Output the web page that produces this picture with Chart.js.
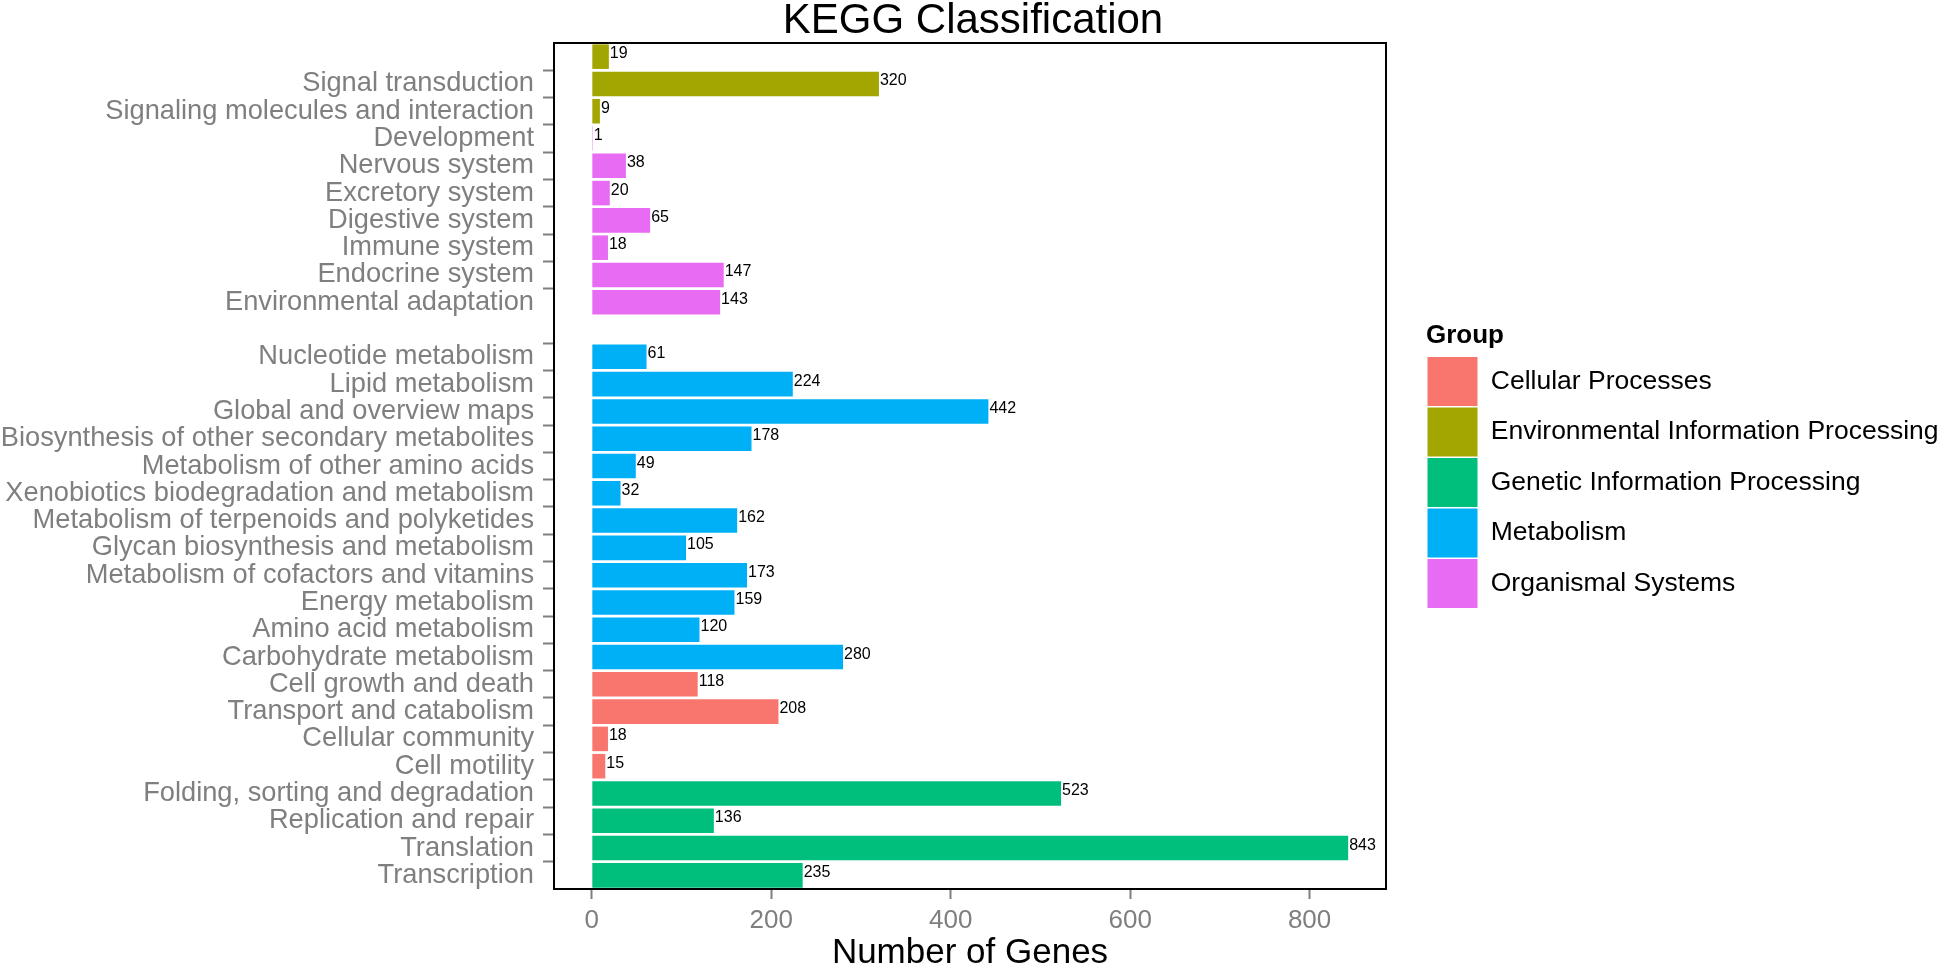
<!DOCTYPE html>
<html>
<head>
<meta charset="utf-8">
<title>KEGG Classification</title>
<script src="https://cdn.jsdelivr.net/npm/chart.js@4.4.1/dist/chart.umd.min.js"></script>
<style>
  body { margin: 0; background: #fff; }
  #wrap { width: 1946px; height: 969px; }
</style>
</head>
<body>
<div id="wrap"><canvas id="kegg-chart"></canvas></div>
<script>
// categories, top to bottom ('' = row without a label)
const categories = [
    '',
    'Signal transduction',
    'Signaling molecules and interaction',
    'Development',
    'Nervous system',
    'Excretory system',
    'Digestive system',
    'Immune system',
    'Endocrine system',
    'Environmental adaptation',
    '',
    'Nucleotide metabolism',
    'Lipid metabolism',
    'Global and overview maps',
    'Biosynthesis of other secondary metabolites',
    'Metabolism of other amino acids',
    'Xenobiotics biodegradation and metabolism',
    'Metabolism of terpenoids and polyketides',
    'Glycan biosynthesis and metabolism',
    'Metabolism of cofactors and vitamins',
    'Energy metabolism',
    'Amino acid metabolism',
    'Carbohydrate metabolism',
    'Cell growth and death',
    'Transport and catabolism',
    'Cellular community',
    'Cell motility',
    'Folding, sorting and degradation',
    'Replication and repair',
    'Translation',
    'Transcription'
];

const geneCounts = [
    19, 320, 9, 1, 38, 20, 65, 18, 147, 143,
    null,
    61, 224, 442, 178, 49, 32, 162, 105, 173, 159, 120, 280,
    118, 208, 18, 15,
    523, 136, 843, 235
];

// group index of each category (see groupNames)
const categoryGroup = [
    1, 1, 1, 4, 4, 4, 4, 4, 4, 4,
    -1,
    3, 3, 3, 3, 3, 3, 3, 3, 3, 3, 3, 3,
    0, 0, 0, 0,
    2, 2, 2, 2
];

const groupNames = [
    'Cellular Processes',
    'Environmental Information Processing',
    'Genetic Information Processing',
    'Metabolism',
    'Organismal Systems'
];
const groupColors = ['#F8766D', '#A3A500', '#00BF7D', '#00B0F6', '#E76BF3'];

const xTicks = [0, 200, 400, 600, 800];

const FONT = "'Liberation Sans', Arial, sans-serif";
const GREY = '#7F7F7F';

Chart.defaults.font.family = FONT;

// one dataset per group so the legend shows the groups
const datasets = groupNames.map((name, g) => ({
    label: name,
    data: geneCounts.map((v, i) => categoryGroup[i] === g ? v : null),
    backgroundColor: groupColors[g],
    borderWidth: 0,
    xAxisID: 'x',
    yAxisID: 'y'
}));

// ggplot-style 5% expansion of the value axis
const maxCount = Math.max(...geneCounts.filter(v => v !== null));
const xPad = maxCount * 0.05;

// numbers at the end of the bars
const valueLabels = {
    id: 'valueLabels',
    afterDatasetsDraw(chart) {
        const ctx = chart.ctx;
        ctx.save();
        ctx.font = '16px ' + FONT;
        ctx.fillStyle = '#000';
        ctx.textAlign = 'left';
        ctx.textBaseline = 'alphabetic';
        chart.data.datasets.forEach((ds, d) => {
            chart.getDatasetMeta(d).data.forEach((bar, i) => {
                const v = ds.data[i];
                if (v === null || v === undefined) return;
                ctx.fillText(String(v), bar.x + 1, bar.y + 1.5);
            });
        });
        ctx.restore();
    }
};

// black frame round the panel
const panelBorder = {
    id: 'panelBorder',
    afterDatasetsDraw(chart) {
        const a = chart.chartArea;
        const ctx = chart.ctx;
        ctx.save();
        ctx.strokeStyle = '#000';
        ctx.lineWidth = 2;
        ctx.strokeRect(a.left, a.top, a.right - a.left, a.bottom - a.top);
        ctx.restore();
    }
};

const ctx = document.getElementById('kegg-chart').getContext('2d');
new Chart(ctx, {
    type: 'bar',
    data: {
        labels: categories,
        datasets: datasets
    },
    options: {
        indexAxis: 'y',
        responsive: true,
        maintainAspectRatio: false,
        animation: false,
        layout: { padding: 0 },
        datasets: {
            bar: {
                grouped: false,
                barPercentage: 0.9,
                categoryPercentage: 1.0
            }
        },
        scales: {
            x: {
                type: 'linear',
                min: -xPad,
                max: maxCount + xPad,
                afterBuildTicks: scale => {
                    scale.ticks = xTicks.map(v => ({ value: v }));
                },
                afterFit: scale => { scale.height = 80; },
                grid: {
                    drawOnChartArea: false,
                    drawTicks: true,
                    tickLength: 10,
                    tickWidth: 2,
                    tickColor: GREY
                },
                border: { display: false },
                ticks: {
                    color: GREY,
                    font: { size: 26 },
                    padding: 6
                },
                title: {
                    display: true,
                    text: 'Number of Genes',
                    color: '#000',
                    font: { size: 35, lineHeight: 1 },
                    padding: { top: 0, bottom: -2 }
                }
            },
            y: {
                type: 'category',
                offset: true,
                afterFit: scale => { scale.width = 554; },
                grid: {
                    drawOnChartArea: false,
                    drawTicks: true,
                    tickLength: 11,
                    tickWidth: 2,
                    tickColor: c => categories[c.index] ? GREY : 'rgba(0,0,0,0)'
                },
                border: { display: false },
                ticks: {
                    autoSkip: false,
                    color: GREY,
                    font: { size: 27.25 },
                    padding: 9
                }
            },
            // empty strip between the panel and the legend
            gap: {
                type: 'linear',
                position: 'right',
                display: true,
                afterFit: scale => { scale.width = 40; },
                grid: { display: false },
                border: { display: false },
                ticks: { display: false }
            }
        },
        plugins: {
            title: {
                display: true,
                text: 'KEGG Classification',
                color: '#000',
                font: { size: 42, weight: 'normal', lineHeight: 1 },
                padding: { top: 0, bottom: 1 }
            },
            legend: {
                position: 'right',
                align: 'center',
                fullSize: false,
                maxWidth: 520,
                labels: {
                    boxWidth: 50,
                    boxHeight: 49,
                    padding: 1.5,
                    color: '#000',
                    font: { size: 26.5 }
                },
                title: {
                    display: true,
                    position: 'start',
                    text: 'Group',
                    color: '#000',
                    font: { size: 26, weight: 'bold', lineHeight: 1.2 },
                    padding: { top: 0, bottom: 2 }
                }
            },
            tooltip: { enabled: false }
        }
    },
    plugins: [valueLabels, panelBorder]
});
</script>
</body>
</html>
